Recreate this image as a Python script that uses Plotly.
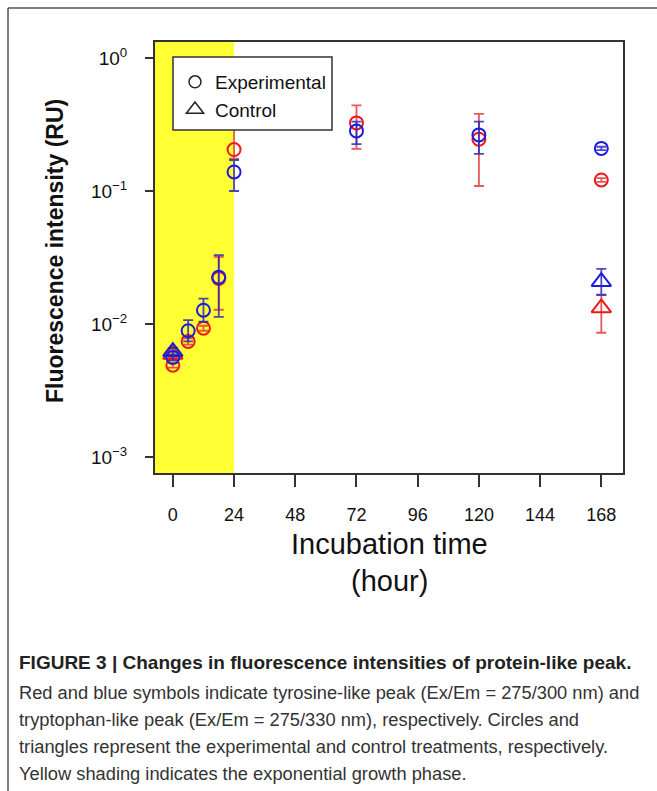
import plotly.graph_objects as go

# ---------------- data ----------------
times_exp = [0, 6, 12, 18, 24, 72, 120, 168]
tyr_exp = [0.0049, 0.0074, 0.0093, 0.022, 0.205, 0.325, 0.245, 0.121]
tyr_exp_hi = [0.0051, 0.0078, 0.0097, 0.032, 0.30, 0.44, 0.38, 0.125]
tyr_exp_lo = [0.0047, 0.0070, 0.0089, 0.0128, 0.175, 0.207, 0.109, 0.117]
trp_exp = [0.0056, 0.0089, 0.0127, 0.0225, 0.139, 0.283, 0.264, 0.209]
trp_exp_hi = [0.0059, 0.0107, 0.0155, 0.033, 0.171, 0.332, 0.332, 0.215]
trp_exp_lo = [0.0053, 0.0074, 0.0104, 0.0113, 0.100, 0.225, 0.190, 0.203]

times_ctl = [0, 168]
tyr_ctl = [0.0059, 0.0132]
tyr_ctl_hi = [0.0062, 0.0165]
tyr_ctl_lo = [0.0056, 0.0086]
trp_ctl = [0.0062, 0.0208]
trp_ctl_hi = [0.0066, 0.026]
trp_ctl_lo = [0.0058, 0.0166]

growth_phase_end = 24
x_ticks = [0, 24, 48, 72, 96, 120, 144, 168]
y_ticks = [1, 0.1, 0.01, 0.001]
y_ticktext = ["10<sup>0</sup>", "10<sup>\u22121</sup>", "10<sup>\u22122</sup>", "10<sup>\u22123</sup>"]
legend_names = ["Experimental", "Control"]
caption_title = "FIGURE 3 | Changes in fluorescence intensities of protein-like peak."
caption_lines = [
    "Red and blue symbols indicate tyrosine-like peak (Ex/Em = 275/300 nm) and",
    "tryptophan-like peak (Ex/Em = 275/330 nm), respectively. Circles and",
    "triangles represent the experimental and control treatments, respectively.",
    "Yellow shading indicates the exponential growth phase.",
]

# ---------------- layout geometry ----------------
W, H = 657, 791
L, R, T, B = 155, 34, 42, 318
PW, PH = W - L - R, H - T - B
X_RANGE = [-7, 176.5]


def px2x(px):
    return (px - L) / PW


def py2y(py):
    return (H - B - py) / PH


RED = "#f01818"
RED_ERR = "rgba(225,60,60,0.85)"
BLUE = "#1c1cdc"
BLUE_ERR = "rgba(40,40,190,0.85)"
FONT = "Liberation Sans, Arial, sans-serif"

fig = go.Figure()


def add_series(x, y, hi, lo, color, ecolor, symbol, size):
    fig.add_trace(go.Scatter(
        x=x, y=y, mode="markers", showlegend=False,
        marker=dict(symbol=symbol, size=size, color=color, line=dict(color=color, width=2)),
        error_y=dict(type="data", symmetric=False,
                     array=[h - v for h, v in zip(hi, y)],
                     arrayminus=[v - l for v, l in zip(y, lo)],
                     color=ecolor, thickness=1.8, width=5),
    ))


add_series(times_ctl, tyr_ctl, tyr_ctl_hi, tyr_ctl_lo, RED, RED_ERR, "triangle-up-open", 17)
add_series(times_exp, tyr_exp, tyr_exp_hi, tyr_exp_lo, RED, RED_ERR, "circle-open", 13)
add_series(times_ctl, trp_ctl, trp_ctl_hi, trp_ctl_lo, BLUE, BLUE_ERR, "triangle-up-open", 17)
add_series(times_exp, trp_exp, trp_exp_hi, trp_exp_lo, BLUE, BLUE_ERR, "circle-open", 13)

# legend-only entries
fig.add_trace(go.Scatter(x=[None], y=[None], mode="markers", name=legend_names[0],
                         marker=dict(symbol="circle-open", size=12, color="#222",
                                     line=dict(color="#222", width=1.5))))
fig.add_trace(go.Scatter(x=[None], y=[None], mode="markers", name=legend_names[1],
                         marker=dict(symbol="triangle-up-open", size=15, color="#222",
                                     line=dict(color="#222", width=1.5))))

# yellow growth-phase shading
fig.add_shape(type="rect", xref="x", yref="paper", x0=X_RANGE[0], x1=growth_phase_end,
              y0=0, y1=1, fillcolor="#ffff33", line_width=0, layer="below")

# legend box
fig.add_shape(type="rect", xref="paper", yref="paper",
              x0=px2x(173), x1=px2x(332), y0=py2y(130), y1=py2y(57),
              fillcolor="white", line=dict(color="#333", width=1.5), layer="above")

# outer frame of the figure panel
fig.add_shape(type="line", xref="paper", yref="paper",
              x0=px2x(8), x1=px2x(W + 5), y0=py2y(8), y1=py2y(8),
              line=dict(color="#555", width=1.5))
fig.add_shape(type="line", xref="paper", yref="paper",
              x0=px2x(8), x1=px2x(8), y0=py2y(8), y1=py2y(H + 5),
              line=dict(color="#555", width=1.5))

axis_font = dict(family=FONT, color="#111")

fig.update_xaxes(range=X_RANGE, tickvals=x_ticks, ticks="outside", ticklen=12, tickwidth=2,
                 tickcolor="#333", showline=True, linewidth=2, linecolor="#333", mirror=True,
                 showgrid=False, zeroline=False, tickfont=dict(size=18, **axis_font),
                 ticklabelstandoff=12)
fig.update_yaxes(type="log", range=[-3.12, 0.12], tickvals=y_ticks, ticktext=y_ticktext,
                 ticks="outside", ticklen=8, tickwidth=2, tickcolor="#333", showline=True,
                 linewidth=2, linecolor="#333", mirror=True, showgrid=False, zeroline=False,
                 tickfont=dict(size=19, **axis_font), ticklabelstandoff=14)

annotations = [
    dict(text="<b>Fluorescence intensity (RU)</b>", x=px2x(55), y=py2y(251), textangle=-90,
         font=dict(size=23, **axis_font)),
    dict(text="Incubation time", x=px2x(389), y=py2y(544), font=dict(size=29, **axis_font)),
    dict(text="(hour)", x=px2x(389), y=py2y(581), font=dict(size=29, **axis_font)),
    dict(text="<b>" + caption_title + "</b>", x=px2x(17), y=py2y(662), xanchor="left",
         font=dict(size=19, family=FONT, color="#222")),
]
for i, line in enumerate(caption_lines):
    annotations.append(dict(text=line, x=px2x(17), y=py2y(692 + 27 * i), xanchor="left",
                            font=dict(size=18.3, family=FONT, color="#333")))
for a in annotations:
    a.setdefault("xref", "paper")
    a.setdefault("yref", "paper")
    a.setdefault("showarrow", False)
    a.setdefault("yanchor", "middle")
    a.setdefault("xanchor", "center")

fig.update_layout(
    width=W, height=H, margin=dict(l=L, r=R, t=T, b=B, autoexpand=False),
    paper_bgcolor="white", plot_bgcolor="white",
    annotations=annotations,
    legend=dict(x=px2x(175), y=py2y(63), xanchor="left", yanchor="top",
                bgcolor="rgba(0,0,0,0)", borderwidth=0,
                font=dict(size=19, **axis_font), tracegroupgap=0),
)

fig.write_html("out.html", config={"displayModeBar": False},
               post_script="document.body.style.margin='0';")
